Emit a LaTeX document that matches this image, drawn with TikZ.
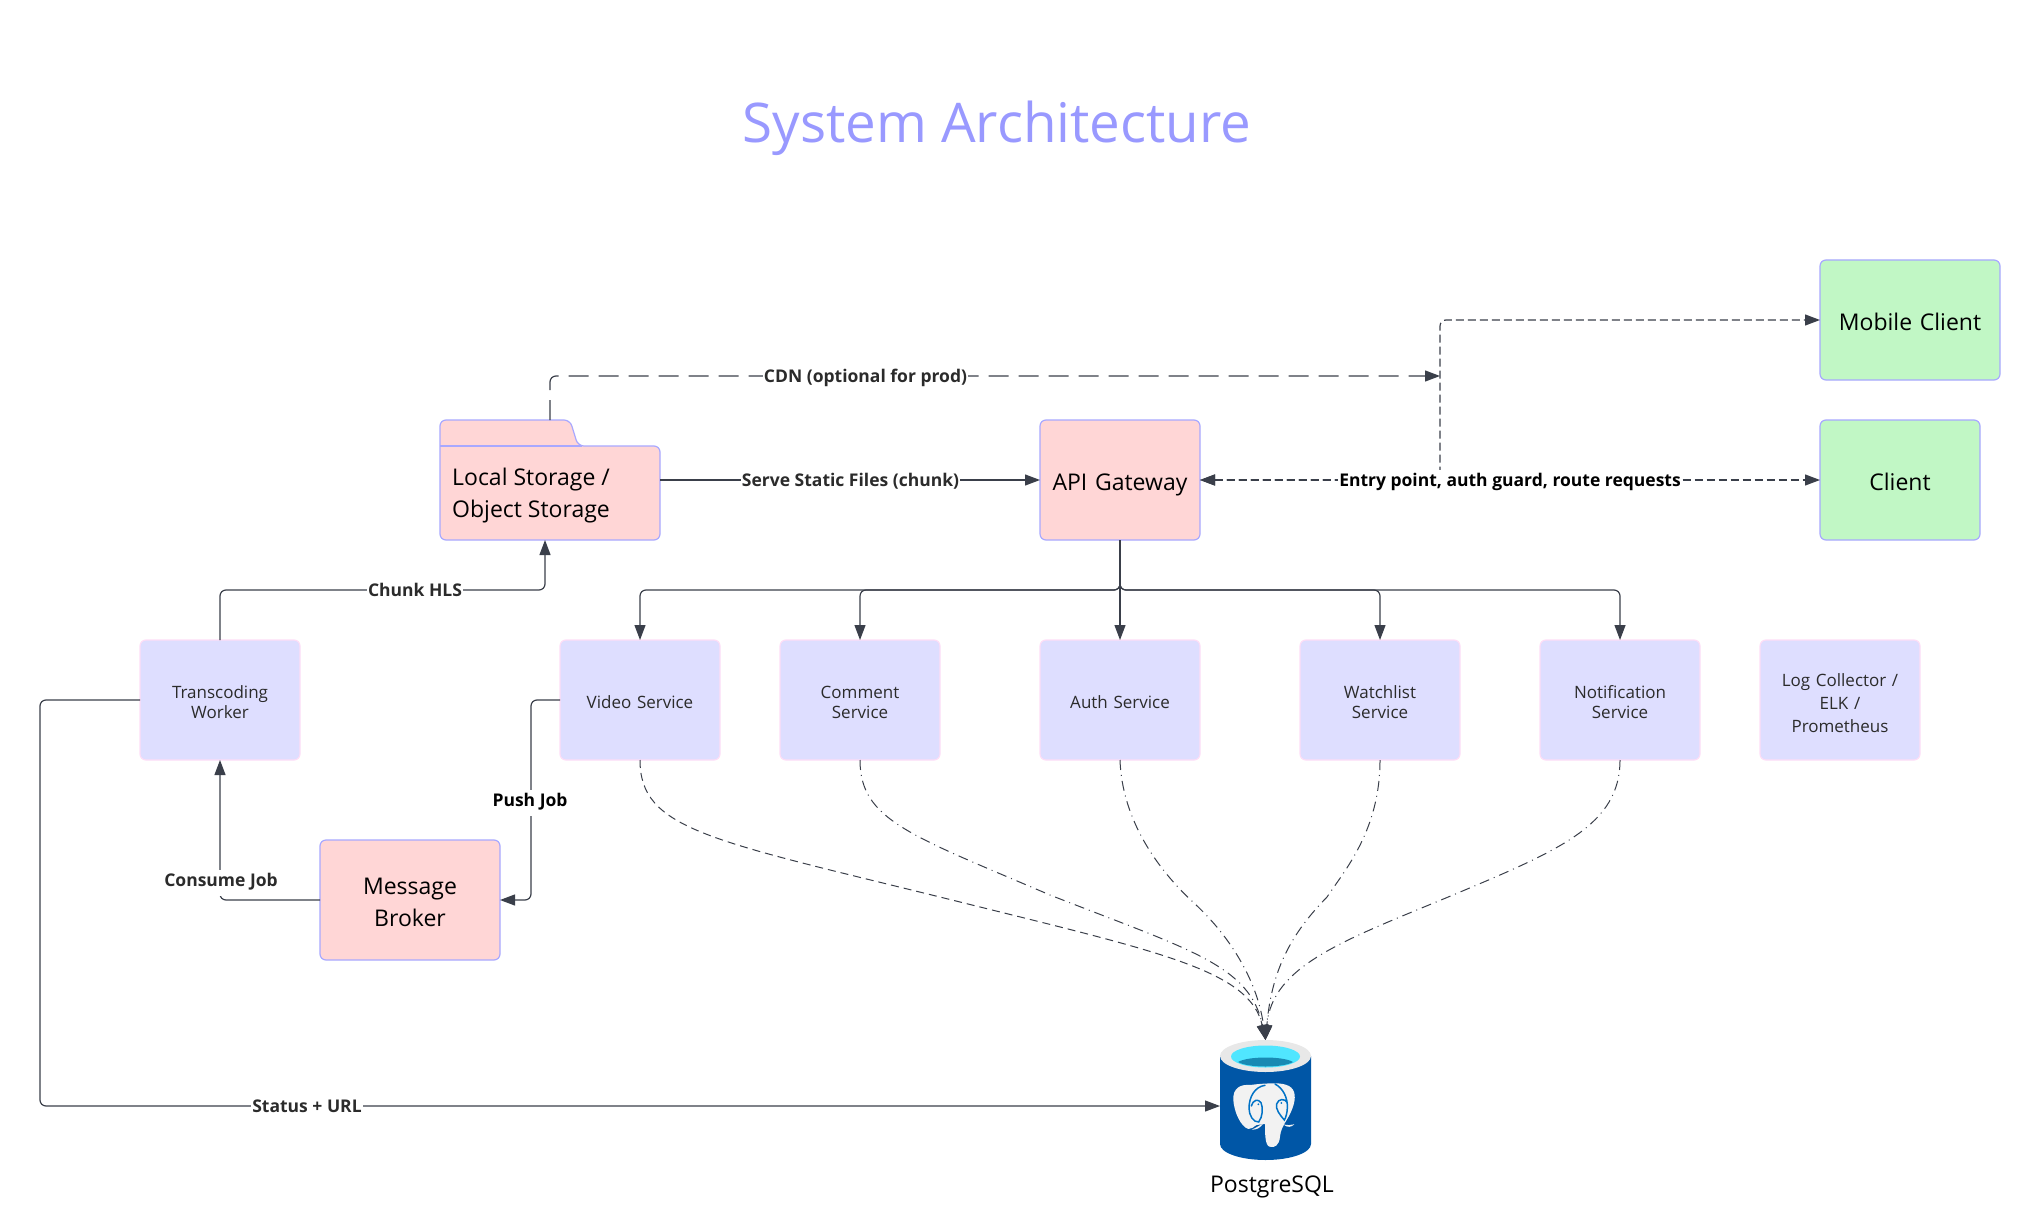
\documentclass[tikz,border=0pt]{standalone}
\usepackage{fontspec}
\setmainfont{Open Sans}
\usepackage{tikz}
\usetikzlibrary{arrows.meta}
\definecolor{titleblue}{HTML}{9999FF}
\definecolor{infrafill}{HTML}{FFD6D6}
\definecolor{clientfill}{HTML}{C1F7C5}
\definecolor{servicefill}{HTML}{DEDEFF}
\definecolor{infraline}{HTML}{A8A8FF}
\definecolor{serviceline}{HTML}{FDDDF6}
\definecolor{wire}{HTML}{3A3F4A}
\definecolor{labeltext}{HTML}{2B2B2B}
\definecolor{dbedge}{HTML}{0056A6}
\definecolor{dbmid}{HTML}{0078D4}
\definecolor{dbrim}{HTML}{E8E8E8}
\definecolor{dbcyan}{HTML}{50E6FF}
\definecolor{dbwater}{HTML}{198AB3}
\definecolor{dbwhite}{HTML}{F2F2F2}
\definecolor{dbline}{HTML}{0072C6}
\newcommand{\nodeshim}{\rule{0pt}{\dimexpr.7\baselineskip+9pt\relax}}
\tikzstyle{infra} = [rectangle, rounded corners=6pt, inner sep=0pt, outer sep=0pt, minimum height=120pt, text width=150pt, text centered, fill=infrafill, draw=infraline, line width=1.2pt, font=\fontsize{23}{32}\selectfont, execute at begin node=\nodeshim, execute at end node=\strut]
\tikzstyle{client} = [infra, fill=clientfill]
\tikzstyle{service} = [rectangle, rounded corners=6pt, inner sep=0pt, outer sep=0pt, minimum width=160pt, minimum height=120pt, text width=150pt, text centered, fill=servicefill, draw=serviceline, line width=1.2pt, text=labeltext, font=\fontsize{17}{20}\selectfont, execute at begin node=\nodeshim, execute at end node=\strut]
\tikzstyle{edgelabel} = [fill=white, inner xsep=1pt, inner ysep=2pt, text=labeltext, font=\fontsize{17.5}{22}\selectfont\bfseries, execute at begin node=\strut]
\tikzstyle{arrow} = [draw=wire, line width=1.2pt, rounded corners=6pt, -{Triangle[length=15pt,width=11pt]}]
\tikzstyle{dasharrow} = [arrow, dash pattern=on 8pt off 4pt]
\tikzstyle{dbarrow} = [arrow, line width=1pt, rounded corners=0pt]
\tikzstyle{dbdash} = [dbarrow, dash pattern=on 8pt off 5pt]
\tikzstyle{dbdashdot} = [dbarrow, dash pattern=on 10pt off 5pt on 1pt off 5pt]
\begin{document}
\begin{tikzpicture}[x=1pt,y=-1pt]
\useasboundingbox (0,0) rectangle (2041,1230);
\node (title) [text=titleblue, font=\fontsize{54.7}{60}\selectfont] at (997,128) {System Architecture};

\node [client, minimum width=180pt] at (1910,320) (mobile) {Mobile Client};
\node [client, minimum width=160pt] at (1900,480) (client) {Client};
\node [infra, minimum width=160pt] at (1120,480) (api) {API Gateway};
\node [infra, minimum width=180pt] at (410,900) (broker) {Message\\Broker};
\node [rectangle, inner sep=0pt, outer sep=0pt, minimum width=220pt, minimum height=120pt] at (550,480) (local) {};
\draw [fill=infrafill, draw=infraline, line width=1.2pt, rounded corners=6pt] (440,540) -- (440,420) -- (570,420) -- (578,446) -- (660,446) -- (660,540) -- cycle;
\draw [draw=infraline, line width=1.2pt] (440,446) -- (582,446);
\node (localtext) [anchor=west, align=left, inner sep=0pt, font=\fontsize{23}{32}\selectfont, execute at begin node=\strut, execute at end node=\strut] at (452,498) {Local Storage /\\Object Storage};

\node [service] at (220,700) (worker) {Transcoding\\Worker};
\node [service] at (640,700) (video) {Video Service};
\node [service] at (860,700) (comment) {Comment\\Service};
\node [service] at (1120,700) (auth) {Auth Service};
\node [service] at (1380,700) (watchlist) {Watchlist\\Service};
\node [service] at (1620,700) (notification) {Notification\\Service};
\node [service, font=\fontsize{17}{23}\selectfont] at (1840,700) (logs) {Log Collector /\\ELK /\\Prometheus};

\node [rectangle, inner sep=0pt, outer sep=0pt, minimum width=91pt, minimum height=132pt] at (1265.5,1106) (db) {};
\shade [left color=dbedge, middle color=dbmid, right color=dbedge] (1220,1056) -- (1220,1144) arc [start angle=180, end angle=0, x radius=45.5, y radius=16] -- (1311,1056) -- cycle;
\fill [dbrim] (1265.5,1056) ellipse [x radius=45.5, y radius=16];
\fill [dbcyan] (1265.5,1056.5) ellipse [x radius=34.5, y radius=11];
\fill [dbwater] (1238,1062) .. controls (1248,1056) and (1283,1056) .. (1293,1062) .. controls (1283,1068) and (1248,1068) .. (1238,1062) -- cycle;
\begin{scope}[shift={(1150,980)},x=0.3333pt,y=-0.3333pt]
\fill [dbwhite] (302,315) .. controls (270,312) and (248,325) .. (250,360) .. controls (252,395) and (272,440) .. (295,447) .. controls (305,449) and (310,440) .. (320,435) -- (345,432) .. controls (345,460) and (345,495) .. (358,500) .. controls (375,505) and (388,495) .. (390,470) .. controls (392,450) and (398,440) .. (410,420) .. controls (428,390) and (436,365) .. (434,345) .. controls (432,320) and (410,310) .. (375,310) .. controls (350,310) and (320,312) .. (302,315) -- cycle;
\fill [dbwhite] (305,449) .. controls (320,450) and (332,443) .. (339,431) .. controls (328,436) and (318,444) .. (305,449) -- cycle;
\fill [dbwhite] (400,433) .. controls (412,444) and (424,442) .. (433,433) .. controls (422,436) and (412,436) .. (400,433) -- cycle;
\draw [dbline, line width=1.5pt, line cap=round] (345,316) .. controls (315,320) and (297,350) .. (297,385) .. controls (297,405) and (310,428) .. (326,426) .. controls (338,410) and (340,385) .. (333,368) .. controls (325,355) and (308,360) .. (304,378);
\draw [dbline, line width=1.5pt, line cap=round] (375,312) .. controls (400,325) and (414,355) .. (412,385) .. controls (411,400) and (408,412) .. (403,420) .. controls (390,405) and (376,388) .. (380,372) .. controls (385,355) and (405,355) .. (412,368);
\fill [dbline] (325,373) circle [radius=1pt];
\fill [dbline] (394,369) circle [radius=1pt];
\end{scope}
\node (dblabel) [font=\fontsize{23}{24}\selectfont] at (1272,1187) {PostgreSQL};

\coordinate (branch) at (1440,480);
\coordinate (cdnend) at (1440,376);

\draw [arrow] (local.east) -- (api.west);
\draw [arrow, dash pattern=on 20pt off 10pt] (local.north) |- (cdnend);
\draw [dasharrow, {Triangle[length=15pt,width=11pt]}-{Triangle[length=15pt,width=11pt]}] (api.east) -- (client.west);
\draw [dasharrow, {Triangle[length=15pt,width=11pt]}-{Triangle[length=15pt,width=11pt]}] (api.east) -- (branch) |- (mobile.west);
\foreach \target in {video,comment,watchlist,notification}
    \draw [arrow] (api.south) -- ++(0,50) -| (\target.north);
\draw [arrow] (api.south) -- (auth.north);
\draw [arrow] (worker.north) -- ++(0,-50) -| ([xshift=-5pt]local.south);
\draw [arrow] (broker.west) -| (worker.south);
\draw [arrow] (video.west) -- ++(-29,0) |- (broker.east);
\draw [arrow] (worker.west) -- ++(-100,0) |- (db.west);

\draw [dbdash] (video.south) .. controls (640,830) and (710,840) .. (952,900) .. controls (1160,952) and (1250,970) .. (db.north);
\draw [dbdashdot] (comment.south) .. controls (860,820) and (910,835) .. (1050,895) .. controls (1190,950) and (1250,965) .. (db.north);
\draw [dbdashdot] (auth.south) .. controls (1122,820) and (1158,870) .. (1194,903) .. controls (1234,940) and (1258,985) .. (db.north);
\draw [dbdashdot] (watchlist.south) .. controls (1380,830) and (1345,870) .. (1327,897) .. controls (1295,930) and (1272,965) .. (db.north);
\draw [dbdashdot] (notification.south) .. controls (1620,825) and (1560,850) .. (1453,895) .. controls (1345,940) and (1272,965) .. (db.north);

\node [edgelabel] at (850.5,482.5) (servelabel) {Serve Static Files (chunk)};
\node [edgelabel] at (865.5,378.5) (cdnlabel) {CDN (optional for prod)};
\node [edgelabel, text=black] at (1510,482.5) (entrylabel) {Entry point, auth guard, route requests};
\node [edgelabel] at (415,592.5) (chunklabel) {Chunk HLS};
\node [edgelabel] at (221,882.5) (consumelabel) {Consume Job};
\node [edgelabel, text=black] at (530,802.5) (pushlabel) {Push Job};
\node [edgelabel] at (307,1108.5) (statuslabel) {Status + URL};
\end{tikzpicture}
\end{document}
